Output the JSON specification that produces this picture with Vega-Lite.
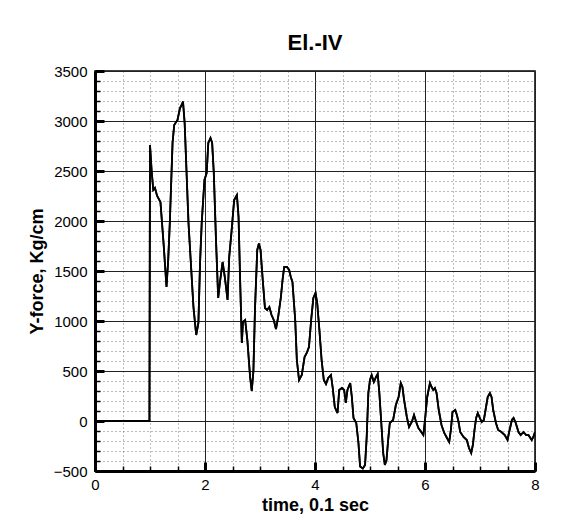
{
  "$schema": "https://vega.github.io/schema/vega-lite/v6.json",
  "width": 440,
  "height": 400,
  "autosize": "none",
  "padding": {"left": 95, "top": 71, "right": 49, "bottom": 52},
  "background": "white",
  "title": {"text": "El.-IV", "font": "Liberation Sans", "fontSize": 22, "fontWeight": "bold", "color": "black", "offset": 9, "anchor": "middle"},
  "config": {
    "view": {"stroke": "black", "strokeWidth": 1.5},
    "axis": {"labelFont": "Liberation Sans", "titleFont": "Liberation Sans", "labelColor": "black", "titleColor": "black", "labelFontSize": 15, "titleFontSize": 18, "titleFontWeight": "bold"}
  },
  "data": {"values": [
    {"t": 0, "f": 0}, {"t": 0.99, "f": 0}, {"t": 1.0, "f": 2760}, {"t": 1.03, "f": 2500}, {"t": 1.06, "f": 2310},
    {"t": 1.09, "f": 2330}, {"t": 1.13, "f": 2250}, {"t": 1.19, "f": 2190}, {"t": 1.25, "f": 1750}, {"t": 1.30, "f": 1340},
    {"t": 1.33, "f": 1600}, {"t": 1.36, "f": 1980}, {"t": 1.41, "f": 2780}, {"t": 1.44, "f": 2960}, {"t": 1.50, "f": 3010},
    {"t": 1.545, "f": 3130}, {"t": 1.575, "f": 3160}, {"t": 1.60, "f": 3195}, {"t": 1.63, "f": 2980}, {"t": 1.70, "f": 1980},
    {"t": 1.79, "f": 1140}, {"t": 1.84, "f": 860}, {"t": 1.88, "f": 980}, {"t": 1.91, "f": 1580}, {"t": 1.94, "f": 1980},
    {"t": 1.99, "f": 2410}, {"t": 2.03, "f": 2480}, {"t": 2.06, "f": 2780}, {"t": 2.10, "f": 2830}, {"t": 2.13, "f": 2780},
    {"t": 2.16, "f": 2480}, {"t": 2.20, "f": 1810}, {"t": 2.24, "f": 1230}, {"t": 2.27, "f": 1380}, {"t": 2.32, "f": 1590},
    {"t": 2.36, "f": 1440}, {"t": 2.41, "f": 1210}, {"t": 2.44, "f": 1640}, {"t": 2.48, "f": 1880}, {"t": 2.53, "f": 2210},
    {"t": 2.58, "f": 2260}, {"t": 2.61, "f": 2040}, {"t": 2.64, "f": 1380}, {"t": 2.67, "f": 780}, {"t": 2.69, "f": 990},
    {"t": 2.73, "f": 1010}, {"t": 2.77, "f": 810}, {"t": 2.82, "f": 440}, {"t": 2.85, "f": 300}, {"t": 2.88, "f": 500},
    {"t": 2.91, "f": 1140}, {"t": 2.95, "f": 1710}, {"t": 2.98, "f": 1775}, {"t": 3.01, "f": 1710}, {"t": 3.05, "f": 1410},
    {"t": 3.09, "f": 1130}, {"t": 3.13, "f": 1110}, {"t": 3.17, "f": 1140}, {"t": 3.21, "f": 1060}, {"t": 3.25, "f": 1010},
    {"t": 3.29, "f": 920}, {"t": 3.33, "f": 1040}, {"t": 3.38, "f": 1240}, {"t": 3.41, "f": 1410}, {"t": 3.44, "f": 1540},
    {"t": 3.49, "f": 1540}, {"t": 3.53, "f": 1510}, {"t": 3.56, "f": 1440}, {"t": 3.59, "f": 1390}, {"t": 3.64, "f": 1010},
    {"t": 3.67, "f": 610}, {"t": 3.71, "f": 410}, {"t": 3.76, "f": 460}, {"t": 3.81, "f": 640}, {"t": 3.85, "f": 680},
    {"t": 3.89, "f": 740}, {"t": 3.93, "f": 1010}, {"t": 3.97, "f": 1230}, {"t": 4.01, "f": 1280}, {"t": 4.04, "f": 1180},
    {"t": 4.08, "f": 910}, {"t": 4.12, "f": 610}, {"t": 4.16, "f": 410}, {"t": 4.20, "f": 370}, {"t": 4.24, "f": 430},
    {"t": 4.29, "f": 460}, {"t": 4.32, "f": 340}, {"t": 4.36, "f": 140}, {"t": 4.41, "f": 80}, {"t": 4.44, "f": 310},
    {"t": 4.49, "f": 330}, {"t": 4.53, "f": 310}, {"t": 4.56, "f": 180}, {"t": 4.59, "f": 310}, {"t": 4.64, "f": 380},
    {"t": 4.67, "f": 240}, {"t": 4.70, "f": 30}, {"t": 4.75, "f": -20}, {"t": 4.79, "f": -220}, {"t": 4.82, "f": -455},
    {"t": 4.87, "f": -475}, {"t": 4.91, "f": -440}, {"t": 4.94, "f": -160}, {"t": 4.97, "f": 280}, {"t": 5.0, "f": 410},
    {"t": 5.03, "f": 460}, {"t": 5.07, "f": 390}, {"t": 5.11, "f": 440}, {"t": 5.14, "f": 470}, {"t": 5.17, "f": 280},
    {"t": 5.21, "f": -60}, {"t": 5.24, "f": -320}, {"t": 5.27, "f": -440}, {"t": 5.30, "f": -390}, {"t": 5.33, "f": -190},
    {"t": 5.36, "f": -20}, {"t": 5.42, "f": 10}, {"t": 5.47, "f": 160}, {"t": 5.52, "f": 240}, {"t": 5.56, "f": 380},
    {"t": 5.59, "f": 340}, {"t": 5.62, "f": 210}, {"t": 5.67, "f": 40}, {"t": 5.71, "f": -60}, {"t": 5.76, "f": -10},
    {"t": 5.80, "f": 60}, {"t": 5.84, "f": -10}, {"t": 5.88, "f": -70}, {"t": 5.92, "f": -100}, {"t": 5.97, "f": -140},
    {"t": 6.0, "f": 10}, {"t": 6.04, "f": 240}, {"t": 6.09, "f": 380}, {"t": 6.12, "f": 340}, {"t": 6.15, "f": 310},
    {"t": 6.18, "f": 330}, {"t": 6.21, "f": 280}, {"t": 6.25, "f": 110}, {"t": 6.30, "f": -40}, {"t": 6.35, "f": -120},
    {"t": 6.39, "f": -160}, {"t": 6.44, "f": -210}, {"t": 6.47, "f": -90}, {"t": 6.50, "f": 90}, {"t": 6.55, "f": 110},
    {"t": 6.58, "f": 60}, {"t": 6.61, "f": -10}, {"t": 6.64, "f": -110}, {"t": 6.70, "f": -160}, {"t": 6.76, "f": -190},
    {"t": 6.80, "f": -270}, {"t": 6.84, "f": -320}, {"t": 6.87, "f": -240}, {"t": 6.90, "f": -90}, {"t": 6.93, "f": 30},
    {"t": 6.96, "f": 80}, {"t": 6.99, "f": 40}, {"t": 7.03, "f": -10}, {"t": 7.07, "f": 10}, {"t": 7.11, "f": 140},
    {"t": 7.14, "f": 240}, {"t": 7.18, "f": 280}, {"t": 7.21, "f": 240}, {"t": 7.24, "f": 110}, {"t": 7.29, "f": -20},
    {"t": 7.33, "f": -90}, {"t": 7.39, "f": -110}, {"t": 7.45, "f": -140}, {"t": 7.50, "f": -190}, {"t": 7.53, "f": -110},
    {"t": 7.58, "f": 10}, {"t": 7.61, "f": 30}, {"t": 7.65, "f": -20}, {"t": 7.70, "f": -110}, {"t": 7.74, "f": -140},
    {"t": 7.79, "f": -110}, {"t": 7.84, "f": -140}, {"t": 7.88, "f": -140}, {"t": 7.94, "f": -190}, {"t": 7.97, "f": -160},
    {"t": 8.0, "f": -110}
  ]},
  "resolve": {"axis": {"x": "independent", "y": "independent"}},
  "layer": [
    {
      "mark": {"type": "line", "color": "black", "strokeWidth": 1.8, "clip": true},
      "encoding": {
        "x": {"field": "t", "type": "quantitative", "scale": {"domain": [0, 8], "nice": false, "zero": false},
          "axis": {"orient": "bottom", "values": [0, 0.5, 1, 1.5, 2, 2.5, 3, 3.5, 4, 4.5, 5, 5.5, 6, 6.5, 7, 7.5, 8], "grid": true, "gridDash": [1, 3], "gridColor": "#777", "gridWidth": 1, "gridOpacity": 1, "labels": false, "domain": false, "ticks": true, "tickSize": -5, "tickWidth": 1.5, "tickColor": "black", "title": null}},
        "y": {"field": "f", "type": "quantitative", "scale": {"domain": [-500, 3500], "nice": false, "zero": false},
          "axis": {"orient": "left", "values": [-500, -400, -300, -200, -100, 0, 100, 200, 300, 400, 500, 600, 700, 800, 900, 1000, 1100, 1200, 1300, 1400, 1500, 1600, 1700, 1800, 1900, 2000, 2100, 2200, 2300, 2400, 2500, 2600, 2700, 2800, 2900, 3000, 3100, 3200, 3300, 3400, 3500], "grid": true, "gridDash": [1, 3], "gridColor": "#777", "gridWidth": 1, "gridOpacity": 1, "labels": false, "domain": false, "ticks": true, "tickSize": -5, "tickWidth": 1.5, "tickColor": "black", "title": null}}
      }
    },
    {
      "mark": {"type": "line", "color": "black", "strokeWidth": 1.8, "clip": true},
      "encoding": {
        "x": {"field": "t", "type": "quantitative",
          "axis": {"orient": "bottom", "values": [0, 2, 4, 6, 8], "format": "d", "grid": true, "gridColor": "#222", "gridWidth": 1, "gridOpacity": 1, "domain": true, "domainColor": "black", "domainWidth": 3, "ticks": true, "tickSize": -9, "tickWidth": 3, "tickColor": "black", "labelPadding": 15, "labelFlush": false, "title": "time, 0.1 sec", "titlePadding": 4}},
        "y": {"field": "f", "type": "quantitative",
          "axis": {"orient": "left", "values": [-500, 0, 500, 1000, 1500, 2000, 2500, 3000, 3500], "format": "d", "grid": true, "gridColor": "#222", "gridWidth": 1, "gridOpacity": 1, "domain": true, "domainColor": "black", "domainWidth": 3, "ticks": true, "tickSize": -9, "tickWidth": 3, "tickColor": "black", "labelPadding": 17, "labelFlush": false, "title": "Y-force, Kg/cm", "titlePadding": 7}}
      }
    }
  ]
}
